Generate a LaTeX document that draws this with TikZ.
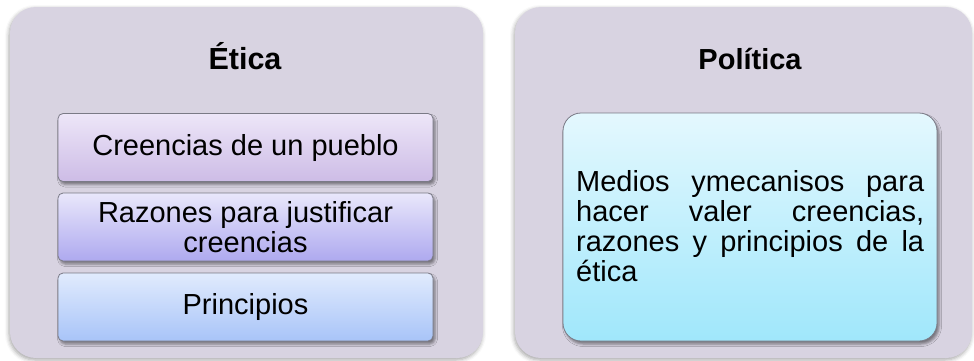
\documentclass[tikz,border=0pt]{standalone}
\usepackage{fontspec}
\setmainfont{Liberation Sans}
\usetikzlibrary{shadows.blur}
\definecolor{outerfill}{HTML}{D8D3E1}
\definecolor{innerline}{HTML}{7A7A86}
\definecolor{aTop}{HTML}{EDE6F8}
\definecolor{aBot}{HTML}{CDBCE6}
\definecolor{bTop}{HTML}{E9E7FB}
\definecolor{bBot}{HTML}{AEA9EF}
\definecolor{cTop}{HTML}{E1EBFD}
\definecolor{cBot}{HTML}{A8C4F8}
\definecolor{dTop}{HTML}{E4F8FE}
\definecolor{dBot}{HTML}{A0E7FB}
\tikzset{
  outerbox/.style={fill=outerfill, rounded corners=26pt,
    blur shadow={shadow xshift=-1pt, shadow yshift=-2pt, shadow blur radius=4pt, shadow opacity=35}},
  itembox/.style={draw=innerline, line width=0.8pt, rounded corners=5pt,
    minimum width=375pt, minimum height=68pt, inner sep=0pt, align=center,
    font=\fontsize{29}{30}\selectfont,
    blur shadow={shadow xshift=2pt, shadow yshift=-3pt, shadow blur radius=2.5pt, shadow opacity=45}},
  titletext/.style={font=\fontsize{30.5}{34}\selectfont\bfseries, anchor=base, inner sep=0pt},
}
\begin{document}
\begin{tikzpicture}[x=1pt,y=-1pt]
\useasboundingbox (0,0) rectangle (974,360);
% outer panels
\path[outerbox] (10,7) rectangle (483,358);
\path[outerbox] (515,7) rectangle (972,358);
% titles
\node[titletext] (etica) at (245,69.5) {Ética};
\node[titletext, font=\fontsize{29}{34}\selectfont\bfseries] (politica) at (750,69.5) {Política};
% left items
\node[itembox, top color=aTop, bottom color=aBot] (b1) at (245.5,147.5) {Creencias de un pueblo};
\node[itembox, top color=bTop, bottom color=bBot] (b2) at (245.5,227) {Razones para justificar\\creencias};
\node[itembox, top color=cTop, bottom color=cBot] (b3) at (245.5,307) {Principios};
% right item
\node[draw=innerline, line width=0.8pt, rounded corners=18pt, top color=dTop, bottom color=dBot,
  minimum width=374pt, minimum height=228pt, inner sep=0pt,
  blur shadow={shadow xshift=2pt, shadow yshift=-3pt, shadow blur radius=2.5pt, shadow opacity=45}]
  (b4) at (750,227) {};
\node[anchor=north west, inner sep=0pt, text width=348pt, align=justify,
  font=\fontsize{29}{30}\selectfont] (t4) at (576,170)
  {Medios ymecanisos para\linebreak hacer valer creencias,\linebreak razones y principios de la\linebreak ética};
\end{tikzpicture}
\end{document}
